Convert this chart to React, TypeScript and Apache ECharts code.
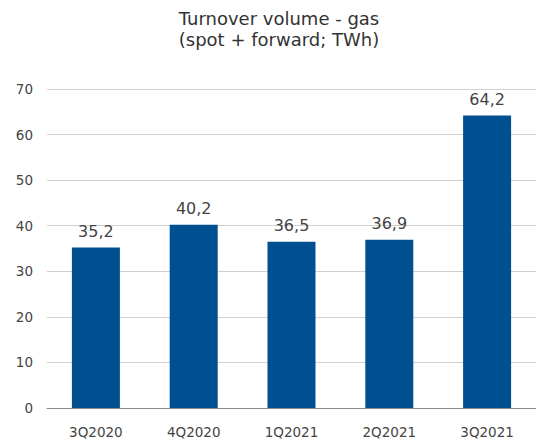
import React, { useEffect, useRef } from "react";
import * as echarts from "echarts";

const categories = ["3Q2020", "4Q2020", "1Q2021", "2Q2021", "3Q2021"];
const values = [35.2, 40.2, 36.5, 36.9, 64.2];
const titleLines = ["Turnover volume - gas", "(spot + forward; TWh)"];

export default function App() {
  const ref = useRef<HTMLDivElement>(null);
  useEffect(() => {
    if (!ref.current) return;
    const chart = echarts.init(ref.current, null, { renderer: "svg" });
    const font = "DejaVu Sans";
    chart.setOption({
      animation: false,
      backgroundColor: "#ffffff",
      graphic: [
        {
          type: "text",
          x: 279,
          y: 8,
          style: {
            text: titleLines.join("\n"),
            textAlign: "center",
            fontFamily: font,
            fontSize: 18,
            lineHeight: 21,
            fill: "#333333",
          },
        },
      ],
      grid: { left: 47, top: 89, width: 493, height: 319, containLabel: false },
      xAxis: {
        type: "category",
        data: categories,
        axisLine: { lineStyle: { color: "#8a8a8a", width: 1 } },
        axisTick: { show: false },
        axisLabel: { fontFamily: font, fontSize: 13.5, color: "#444444", margin: 17 },
      },
      yAxis: {
        type: "value",
        min: 0,
        max: 70,
        interval: 10,
        axisLine: { show: false },
        axisTick: { show: false },
        axisLabel: { fontFamily: font, fontSize: 13.5, color: "#444444", margin: 14 },
        splitLine: { lineStyle: { color: "#d0d0d0", width: 1 } },
      },
      series: [
        {
          type: "bar",
          data: values,
          barWidth: 48,
          itemStyle: { color: "#004f91" },
          label: {
            show: true,
            position: "top",
            distance: 8,
            fontFamily: font,
            fontSize: 16,
            color: "#444444",
            formatter: (p: any) => String(p.value).replace(".", ","),
          },
        },
      ],
    });
    return () => chart.dispose();
  }, []);
  return (
    <div
      ref={ref}
      style={{ position: "absolute", left: 0, top: 0, width: 536, height: 441 }}
    />
  );
}
